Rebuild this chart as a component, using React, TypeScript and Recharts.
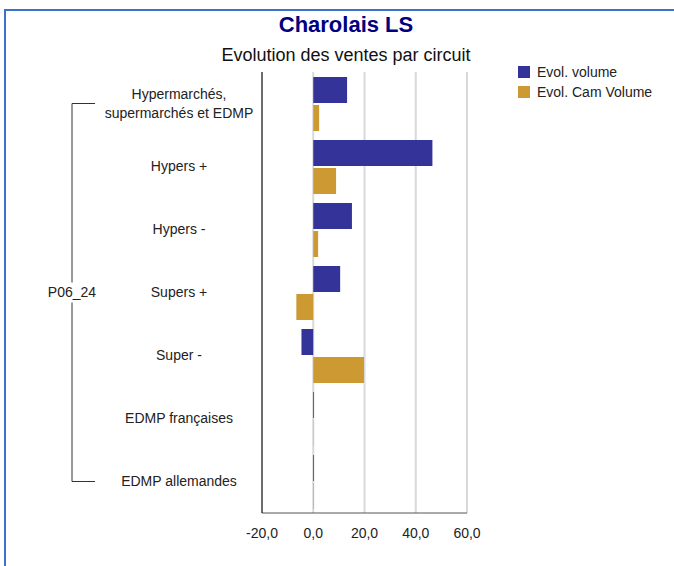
import React from 'react';
import { BarChart, Bar, XAxis, YAxis, CartesianGrid } from 'recharts';

// Values (percent evolution)
const categories = [
  'Hypermarchés,\nsupermarchés et EDMP',
  'Hypers +',
  'Hypers -',
  'Supers +',
  'Super -',
  'EDMP françaises',
  'EDMP allemandes',
];
const evolVolume = [13.2, 46.5, 15.1, 10.5, -4.6, 0.3, 0.3];
const evolCamVolume = [2.3, 8.9, 1.9, -6.6, 19.8, 0.1, 0.2];
const xTicks = [-20, 0, 20, 40, 60];
const groupLabel = 'P06_24';

const seriesNames = ['Evol. volume', 'Evol. Cam Volume'];
const seriesColors = ['#333399', '#CC9933'];

const W = 674;
const H = 566;
const X_AXIS_H = 30;
const MARGIN = { top: 72, right: 207, bottom: 23, left: 0 };
const Y_AXIS_W = 262;
const FONT = '"Liberation Sans", Arial, sans-serif';

const data = categories.map((c, i) => ({
  category: c,
  volume: evolVolume[i],
  cam: evolCamVolume[i],
}));

const bandSize = (H - MARGIN.top - MARGIN.bottom - X_AXIS_H) / categories.length;

const CategoryTick = (props: any) => {
  const { x, y, payload, index } = props;
  const lines = String(payload.value).split('\n');
  const cx = x - 83;
  const bx = x - 190;
  const last = categories.length - 1;
  const mid = Math.floor(last / 2);
  const stroke = '#333';

  // the group bracket is drawn once, from the first tick
  let bracket = null;
  if (index === 0) {
    const yEnd = y + last * bandSize;
    const yMid = y + mid * bandSize;
    bracket = (
      <g>
        <line x1={bx} x2={bx} y1={y} y2={yMid - 10} stroke={stroke} strokeWidth={1} />
        <line x1={bx} x2={bx} y1={yMid + 10} y2={yEnd} stroke={stroke} strokeWidth={1} />
        <line x1={bx} x2={bx + 23} y1={y} y2={y} stroke={stroke} strokeWidth={1} />
        <line x1={bx} x2={bx + 23} y1={yEnd} y2={yEnd} stroke={stroke} strokeWidth={1} />
        <text x={bx} y={yMid} dy="0.35em" textAnchor="middle" fontSize={14} fill="#222" fontFamily={FONT}>
          {groupLabel}
        </text>
      </g>
    );
  }

  return (
    <g>
      {bracket}
      {lines.map((ln, k) => (
        <text
          key={k}
          x={cx}
          y={y + (k - (lines.length - 1) / 2) * 19}
          dy="0.35em"
          textAnchor="middle"
          fontSize={14}
          fill="#222"
          fontFamily={FONT}
        >
          {ln}
        </text>
      ))}
    </g>
  );
};

const fmt = (v: number) => v.toFixed(1).replace('.', ',');

export default function App() {
  return (
    <div style={{ position: 'absolute', left: 0, top: 0, width: W, height: H, background: '#fff', overflow: 'hidden', fontFamily: FONT }}>
      <div
        style={{
          position: 'absolute',
          left: 4,
          top: 9,
          width: W - 4,
          height: H - 9,
          borderTop: '2px solid #3c72c8',
          borderLeft: '2px solid #3c72c8',
          boxSizing: 'border-box',
        }}
      />
      <div style={{ position: 'absolute', left: 0, top: 12, width: 692, textAlign: 'center', fontSize: 22, fontWeight: 'bold', color: '#000080' }}>
        Charolais LS
      </div>
      <div style={{ position: 'absolute', left: 0, top: 45, width: 692, textAlign: 'center', fontSize: 18, color: '#111' }}>
        Evolution des ventes par circuit
      </div>
      <div style={{ position: 'absolute', left: 518, top: 62 }}>
        {seriesNames.map((n, i) => (
          <div key={n} style={{ display: 'flex', alignItems: 'center', height: 20, fontSize: 14, color: '#222' }}>
            <span style={{ display: 'inline-block', width: 12, height: 12, background: seriesColors[i], marginRight: 7 }} />
            {n}
          </div>
        ))}
      </div>
      <div style={{ position: 'absolute', left: 0, top: 0 }}>
        <BarChart width={W} height={H} data={data} layout="vertical" margin={MARGIN} barGap={2} barSize={26}>
          <CartesianGrid horizontal={false} vertical={true} stroke="#d9d9d9" strokeWidth={2} />
          <XAxis
            type="number"
            domain={[-20, 60]}
            ticks={xTicks}
            tickFormatter={fmt}
            height={X_AXIS_H}
            axisLine={{ stroke: '#555', strokeWidth: 1 }}
            tickLine={false}
            tickMargin={9}
            tick={{ fontSize: 14, fill: '#222', fontFamily: FONT }}
            allowDataOverflow
          />
          <YAxis
            type="category"
            dataKey="category"
            width={Y_AXIS_W}
            axisLine={{ stroke: '#000', strokeWidth: 1 }}
            tickLine={false}
            tickSize={0}
            tickMargin={0}
            interval={0}
            tick={<CategoryTick />}
          />
          <Bar dataKey="volume" name={seriesNames[0]} fill={seriesColors[0]} isAnimationActive={false} />
          <Bar dataKey="cam" name={seriesNames[1]} fill={seriesColors[1]} isAnimationActive={false} />
        </BarChart>
      </div>
    </div>
  );
}
